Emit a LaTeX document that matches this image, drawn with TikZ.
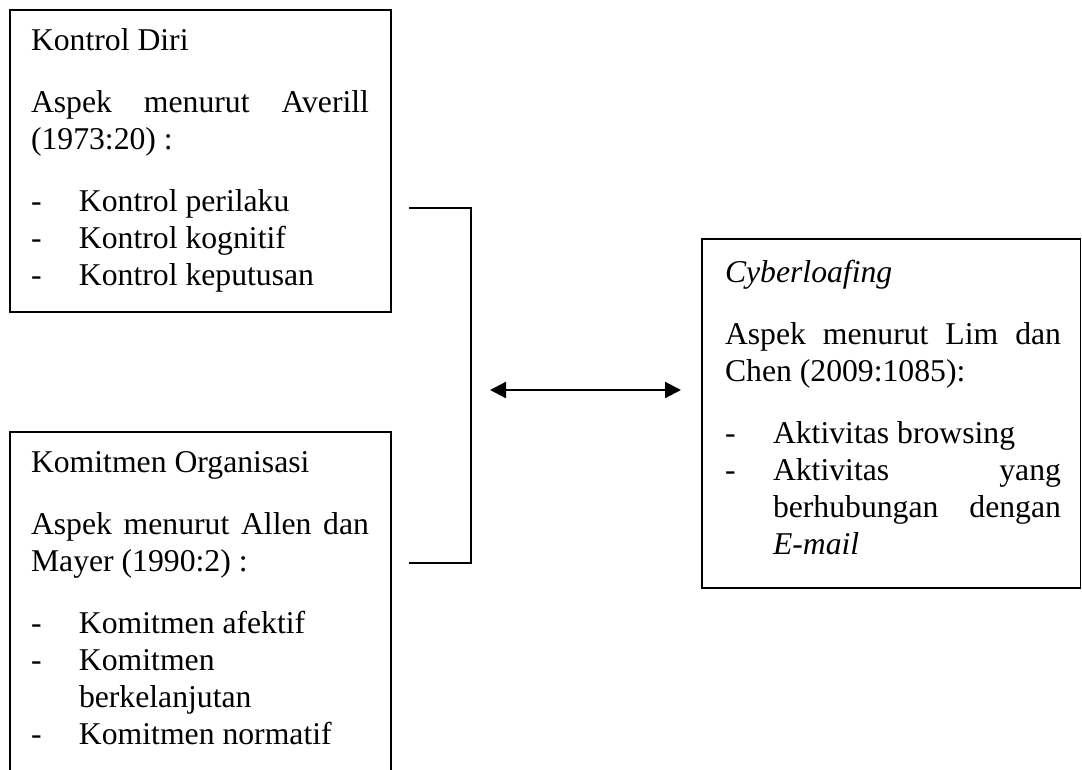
\documentclass[tikz,border=0pt]{standalone}
\usepackage{fontspec}
\setmainfont{Liberation Serif}
\usetikzlibrary{arrows.meta}
\newcommand\boxsetup{\parskip=0pt\parindent=0pt\tolerance=10000\hbadness=10000}
\newcommand\pgap{\par\vspace{25pt}}
\newcommand\dashitem[1]{\par\hangindent=48pt\hangafter=1\noindent\makebox[48pt][l]{-}#1\par}
\begin{document}
\begin{tikzpicture}[x=1pt,y=-1pt,
  frame/.style={draw, line width=1.6pt, inner sep=0pt, outer sep=0pt, anchor=north west},
  txt/.style={anchor=base west, inner sep=0pt, outer sep=0pt, align=justify, font=\fontsize{31.7}{37}\selectfont},
  link/.style={line width=1.6pt},
  biarrow/.style={line width=2.2pt, {Triangle[length=16pt,width=16pt]}-{Triangle[length=16pt,width=16pt]}}
]
\useasboundingbox (0,0) rectangle (1082,769);
\clip (0,0) rectangle (1082,769);

% frames
\node[frame, minimum width=381pt, minimum height=302pt] (box1) at (10,10) {};
\node[frame, minimum width=381pt, minimum height=400pt] (box2) at (10,432) {};
\node[frame, minimum width=378.5pt, minimum height=349pt] (box3) at (702,239) {};

% texts
\node[txt, text width=338pt] (t1) at (31,50) {\boxsetup
Kontrol Diri\pgap
Aspek \hfill menurut \hfill Averill\newline (1973:20) :\pgap
\dashitem{Kontrol perilaku}\dashitem{Kontrol kognitif}\dashitem{Kontrol keputusan}};

\node[txt, text width=338pt] (t2) at (31,472) {\boxsetup
Komitmen Organisasi\pgap
Aspek \hfill menurut \hfill Allen \hfill dan\newline Mayer (1990:2) :\pgap
\dashitem{Komitmen afektif}\dashitem{Komitmen\newline berkelanjutan}\dashitem{Komitmen normatif}};

\node[txt, text width=336pt] (t3) at (725,282) {\boxsetup
\textit{Cyberloafing}\pgap
Aspek \hfill menurut \hfill Lim \hfill dan\newline Chen (2009:1085):\pgap
\dashitem{Aktivitas browsing}\dashitem{Aktivitas \hfill yang\newline berhubungan \hfill dengan\newline \textit{E-mail}}};

% bracket
\coordinate (brT) at (409,208);
\coordinate (brB) at (409,563);
\draw[link] (brT) -- ++(62,0) |- (brB);

% double arrow
\coordinate (aL) at (490,390);
\coordinate (aR) at (681,390);
\draw[biarrow] (aL) -- (aR);
\end{tikzpicture}
\end{document}
